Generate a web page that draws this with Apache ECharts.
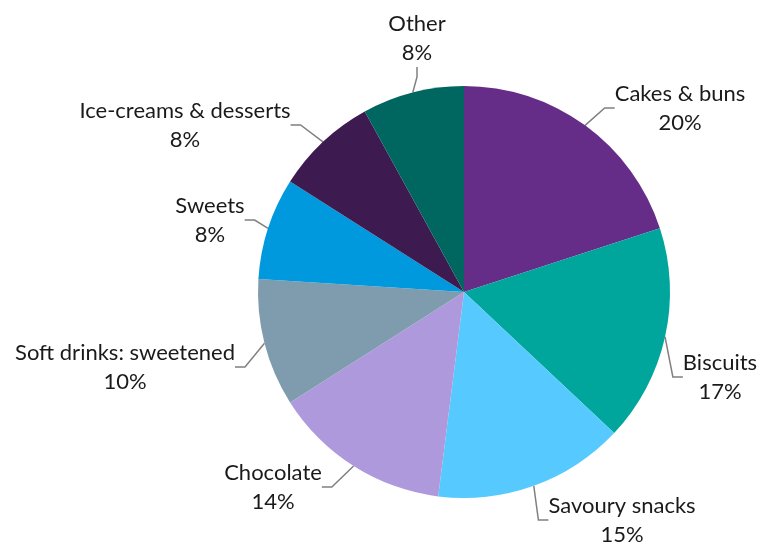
<!DOCTYPE html>
<html>
<head>
<meta charset="utf-8">
<script src="https://cdn.jsdelivr.net/npm/echarts@6/dist/echarts.min.js"></script>
<style>
  html, body { margin: 0; padding: 0; background: #ffffff; }
  #chart { width: 760px; height: 544px; }
</style>
</head>
<body>
<div id="chart"></div>
<script>
// Share of sugar intake by food group (%)
const categories = [
  'Cakes & buns', 'Biscuits', 'Savoury snacks', 'Chocolate',
  'Soft drinks: sweetened', 'Sweets', 'Ice-creams & desserts', 'Other'
];
const shares = [20, 17, 15, 14, 10, 8, 8, 8];
const sliceColors = [
  '#652D88', '#00A59B', '#56CAFE', '#AE99DC',
  '#7F9CAE', '#0099DD', '#3D1A50', '#006660'
];
// Centre of each two-line label block, in pixels
const labelCentres = [
  [680, 108], [720, 377], [622, 520], [273, 487],
  [125, 367], [210, 220], [185, 125], [417, 38]
];

const chart = echarts.init(document.getElementById('chart'), null, { renderer: 'canvas' });

chart.setOption({
  animation: false,
  color: sliceColors,
  series: [{
    type: 'pie',
    center: [464, 292],
    radius: 206,
    startAngle: 90,
    clockwise: true,
    data: categories.map((name, i) => ({ name, value: shares[i] })),
    itemStyle: { borderWidth: 0 },
    label: {
      show: true,
      position: 'outside',
      formatter: '{b}\n{c}%',
      fontFamily: 'Lato, "Open Sans", sans-serif',
      fontSize: 22,
      lineHeight: 29,
      color: '#1a1a1a',
      align: 'center',
      overflow: 'none'
    },
    labelLine: {
      show: true,
      length: 10,
      length2: 10,
      lineStyle: { color: '#808080', width: 1.5 }
    },
    labelLayout: function (params) {
      const c = labelCentres[params.dataIndex];
      return {
        x: c[0],
        y: c[1],
        align: 'center',
        verticalAlign: 'middle'
      };
    }
  }]
});
</script>
</body>
</html>
